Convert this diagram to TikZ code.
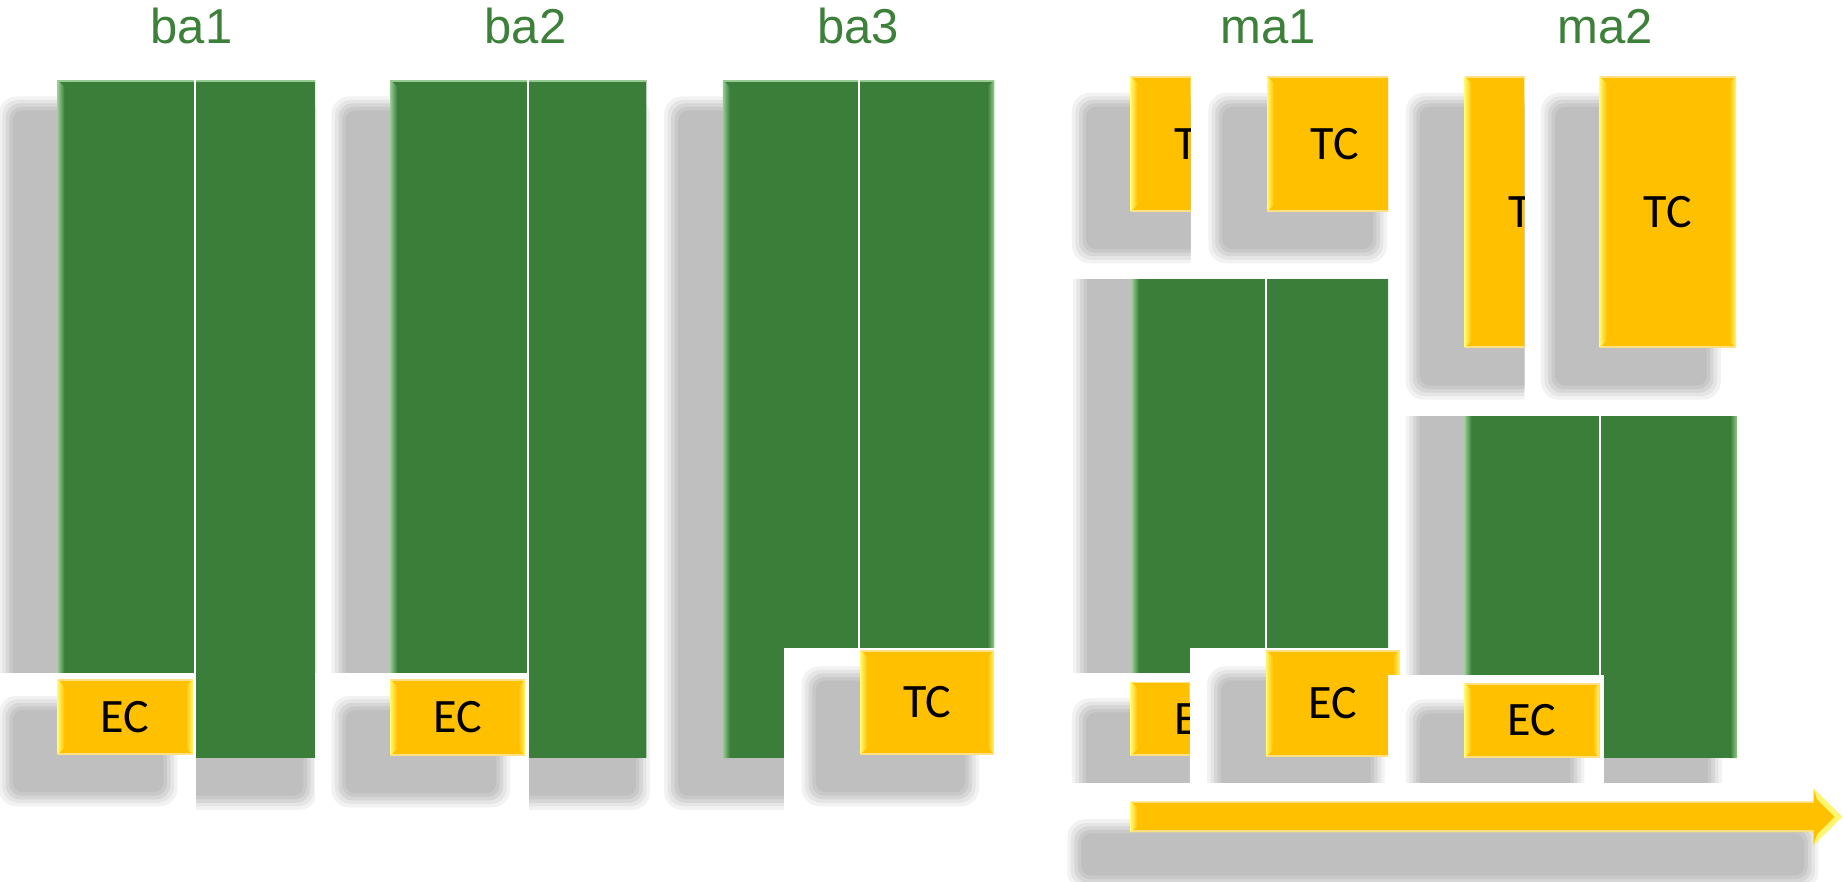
\documentclass[tikz,border=0pt]{standalone}
\usepackage{fontspec}
\setmainfont{Carlito}
\newfontfamily\titlefont{Liberation Sans}
\definecolor{grn}{RGB}{59,126,58}
\definecolor{grnlt}{RGB}{150,204,146}
\definecolor{ylw}{RGB}{255,192,0}
\definecolor{ylwlt}{RGB}{255,248,110}
\definecolor{ylwtop}{RGB}{255,224,130}
\definecolor{ttl}{RGB}{60,128,58}
\tikzset{
  sha/.style={fill=black!5, rounded corners=9pt},
  shb/.style={fill=black!10, rounded corners=8pt},
  shc/.style={fill=black!16, rounded corners=7pt},
  shd/.style={fill=black!21, rounded corners=6pt},
  she/.style={fill=black!25, rounded corners=5pt},
  ttlnode/.style={font=\titlefont\fontsize{24.5}{28}\selectfont, text=ttl, anchor=base, inner sep=0pt},
  lblnode/.style={font=\fontsize{24}{27}\selectfont, text=black, inner sep=0pt},
  whitecut/.style={fill=white},
  arrowbody/.style={fill=ylw},
}
\newcommand\Shd[4]{%
  \fill[sha] ({#1-50},{#2+14}) rectangle ({#3-13},{#4+44});
  \fill[shb] ({#1-47},{#2+17}) rectangle ({#3-16},{#4+41});
  \fill[shc] ({#1-44},{#2+20}) rectangle ({#3-19},{#4+38});
  \fill[shd] ({#1-41},{#2+23}) rectangle ({#3-22},{#4+35});
  \fill[she] ({#1-38},{#2+26}) rectangle ({#3-25},{#4+32});
}
\newcommand\Grn[5]{%
  \fill[grn] (#1,#2) rectangle (#3,#4);
  \shade[left color=grnlt, right color=grn] (#1,#2) -- ({#1+6},{#2+6}) -- ({#1+6},#4) -- (#1,#4) -- cycle;
  \shade[left color=grn, right color=grnlt] ({#3-6},{#2+6}) -- (#3,#2) -- (#3,#4) -- ({#3-6},#4) -- cycle;
  \fill[grnlt] (#1,#2) rectangle (#3,{#2+1.5});
  \fill[white] ({#5-1},#2) rectangle ({#5+1},#4);
}
\newcommand\Ylw[4]{%
  \fill[ylw] (#1,#2) rectangle (#3,#4);
  \shade[left color=ylwlt, right color=ylw] (#1,#2) -- ({#1+6},{#2+6}) -- ({#1+6},{#4-6}) -- (#1,#4) -- cycle;
  \shade[left color=ylw, right color=ylwlt] ({#3-6},{#2+6}) -- (#3,#2) -- (#3,#4) -- ({#3-6},{#4-6}) -- cycle;
  \fill[ylwtop] (#1,#2) rectangle (#3,{#2+1.5});
  \fill[ylwtop] (#1,{#4-1.5}) rectangle (#3,#4);
}
\begin{document}
\begin{tikzpicture}[x=0.5877pt,y=-0.5877pt]
\useasboundingbox (0,0) rectangle (1568,750);

% titles
\node[ttlnode] (tba1) at (163,37) {ba1};
\node[ttlnode] (tba2) at (447,37) {ba2};
\node[ttlnode] (tba3) at (730,37) {ba3};
\node[ttlnode] (tma1) at (1079,37) {ma1};
\node[ttlnode] (tma2) at (1366,37) {ma2};

% ---------- ba1
\Shd{49}{68}{283}{645}
\begin{scope}
  \clip (0,0) rectangle (268,750);
  \Grn{49}{68}{283}{645}{166}
\end{scope}
\fill[whitecut] (0,573) rectangle (167,750);
\Shd{49}{578}{164}{642}
\Ylw{49}{578}{164}{642}
\node[lblnode] (ec1) at (106.5,610) {EC};

% ---------- ba2
\Shd{332}{68}{566}{645}
\begin{scope}
  \clip (0,0) rectangle (550,750);
  \Grn{332}{68}{566}{645}{449}
\end{scope}
\fill[whitecut] (268,573) rectangle (450,750);
\Shd{332}{578}{447}{643}
\Ylw{332}{578}{447}{643}
\node[lblnode] (ec2) at (389.5,610.5) {EC};

% ---------- ba3
\Shd{615}{68}{846}{645}
\Grn{615}{68}{846}{645}{731}
\fill[whitecut] (667,551) rectangle (860,750);
\Shd{732}{553}{846}{642}
\Ylw{732}{553}{846}{642}
\node[lblnode] (tc3) at (789,597.5) {TC};

% ---------- ma1 top
\begin{scope}
  \clip (900,0) rectangle (1013,237);
  \Shd{962}{65}{1077}{180}
  \Ylw{962}{65}{1077}{180}
  \node[lblnode] (tcm1a) at (1019.5,122.5) {TC};
\end{scope}
\begin{scope}
  \clip (1013,0) rectangle (1181,237);
  \Shd{1078}{65}{1193}{180}
  \Ylw{1078}{65}{1193}{180}
  \node[lblnode] (tcm1b) at (1135.5,122.5) {TC};
\end{scope}

% ma1 green
\begin{scope}
  \clip (900,238) rectangle (1181,750);
  \Shd{963}{200}{1193}{573}
  \Grn{963}{200}{1193}{573}{1077}
\end{scope}

% ma1 bottom boxes
\fill[whitecut] (905,573) rectangle (1012,666);
\begin{scope}
  \clip (900,573) rectangle (1012,750);
  \Shd{962}{580}{1077}{643}
  \Ylw{962}{580}{1077}{643}
  \node[lblnode] (ecm1a) at (1019.5,611.5) {EC};
\end{scope}
\fill[whitecut] (1012,551) rectangle (1195,666);
\Shd{1077}{553}{1191}{644}
\Ylw{1077}{553}{1191}{644}
\node[lblnode] (ecm1b) at (1134,598.5) {EC};

% ---------- ma2 top
\begin{scope}
  \clip (1190,0) rectangle (1297,350);
  \Shd{1246}{65}{1361}{296}
  \Ylw{1246}{65}{1361}{296}
  \node[lblnode] (tcm2a) at (1303.5,180.5) {TC};
\end{scope}
\Shd{1361}{65}{1477}{296}
\Ylw{1361}{65}{1477}{296}
\node[lblnode] (tcm2b) at (1419,180.5) {TC};

% ma2 green
\begin{scope}
  \clip (1190,354) rectangle (1568,750);
  \Shd{1246}{310}{1478}{645}
  \Grn{1246}{310}{1478}{645}{1361}
\end{scope}
\fill[whitecut] (1181,574) rectangle (1365,666);
\Shd{1246}{581}{1361}{645}
\Ylw{1246}{581}{1361}{645}
\node[lblnode] (ecm2) at (1303.5,613) {EC};

% ---------- arrow
\fill[whitecut] (905,666) rectangle (1568,750);
\fill[sha] (908,697) rectangle (1547,757);
\fill[shb] (911,700) rectangle (1544,754);
\fill[shc] (914,703) rectangle (1541,751);
\fill[shd] (917,706) rectangle (1538,748);
\fill[she] (920,709) rectangle (1535,745);
\fill[arrowbody] (962,682) -- (1543,682) -- (1543,671) -- (1567,695) -- (1543,719) -- (1543,708) -- (962,708) -- cycle;
\shade[left color=ylwlt, right color=ylw] (962,682) -- (968,687) -- (968,703) -- (962,708) -- cycle;
\fill[ylwtop] (962,682) rectangle (1543,683.5);
\fill[ylwtop] (962,706.5) rectangle (1543,708);
\fill[ylwlt] (1543,671) -- (1567,695) -- (1561,695) -- (1546,680) -- cycle;
\fill[ylwlt] (1543,719) -- (1567,695) -- (1561,695) -- (1546,710) -- cycle;
\end{tikzpicture}
\end{document}
